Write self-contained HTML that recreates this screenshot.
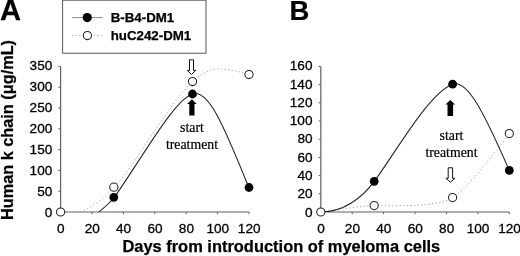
<!DOCTYPE html>
<html><head><meta charset="utf-8"><title>Figure</title>
<style>
html,body{margin:0;padding:0;background:#fff;}
svg{display:block}
text{font-family:"Liberation Sans",Arial,sans-serif;fill:#000}
.b{font-weight:bold;stroke:#000;stroke-width:0.25px}
.tk{font-size:13.6px;stroke:#000;stroke-width:0.3px}
.sf{font-family:"Liberation Serif","Times New Roman",serif;font-size:13.8px;stroke:#000;stroke-width:0.2px}
</style></head><body>
<svg width="520" height="256" viewBox="0 0 520 256">
<rect width="520" height="256" fill="#fff"/>
<defs>
<clipPath id="ca"><rect x="60" y="40" width="200" height="172"/></clipPath>
<clipPath id="cb"><rect x="320" y="40" width="200" height="172"/></clipPath>
</defs>

<text class="b" transform="translate(0,20.1) scale(1.02,1)" font-size="28.6">A</text>
<text class="b" transform="translate(289.6,19.9) scale(0.98,1)" font-size="28">B</text>
<rect x="62.6" y="0.2" width="143.4" height="53" fill="#fff" stroke="#555" stroke-width="1"/>
<line x1="72" y1="17.6" x2="102.7" y2="17.6" stroke="#8c8c8c" stroke-width="1"/>
<circle cx="87.25" cy="17.6" r="4.6" fill="#000"/>
<line x1="72" y1="35.5" x2="104" y2="35.5" stroke="#a0a0a0" stroke-width="1" stroke-dasharray="1.2,2.4"/>
<circle cx="87.4" cy="35.5" r="4.1" fill="#fff" stroke="#222" stroke-width="1.05"/>
<text class="b" x="110.7" y="22.4" font-size="13.3">B-B4-DM1</text>
<text class="b" x="110.7" y="40.4" font-size="13.3">huC242-DM1</text>
<path d="M60.6,66.4V212H249.0" fill="none" stroke="#606060" stroke-width="1.2"/>
<line x1="58.30" x2="60.6" y1="212.00" y2="212.00" stroke="#606060"/>
<text class="tk" x="52.30" y="216.50" text-anchor="end">0</text>
<line x1="58.30" x2="60.6" y1="191.20" y2="191.20" stroke="#606060"/>
<text class="tk" x="52.30" y="195.63" text-anchor="end">50</text>
<line x1="58.30" x2="60.6" y1="170.40" y2="170.40" stroke="#606060"/>
<text class="tk" x="52.30" y="174.76" text-anchor="end">100</text>
<line x1="58.30" x2="60.6" y1="149.60" y2="149.60" stroke="#606060"/>
<text class="tk" x="52.30" y="153.89" text-anchor="end">150</text>
<line x1="58.30" x2="60.6" y1="128.80" y2="128.80" stroke="#606060"/>
<text class="tk" x="52.30" y="133.01" text-anchor="end">200</text>
<line x1="58.30" x2="60.6" y1="108.00" y2="108.00" stroke="#606060"/>
<text class="tk" x="52.30" y="112.14" text-anchor="end">250</text>
<line x1="58.30" x2="60.6" y1="87.20" y2="87.20" stroke="#606060"/>
<text class="tk" x="52.30" y="91.27" text-anchor="end">300</text>
<line x1="58.30" x2="60.6" y1="66.40" y2="66.40" stroke="#606060"/>
<text class="tk" x="52.30" y="70.40" text-anchor="end">350</text>
<line y1="212" y2="214.2" x1="60.60" x2="60.60" stroke="#606060"/>
<text class="tk" x="60.80" y="233.4" text-anchor="middle">0</text>
<line y1="212" y2="214.2" x1="92.00" x2="92.00" stroke="#606060"/>
<text class="tk" x="92.20" y="233.4" text-anchor="middle">20</text>
<line y1="212" y2="214.2" x1="123.40" x2="123.40" stroke="#606060"/>
<text class="tk" x="123.60" y="233.4" text-anchor="middle">40</text>
<line y1="212" y2="214.2" x1="154.80" x2="154.80" stroke="#606060"/>
<text class="tk" x="155.00" y="233.4" text-anchor="middle">60</text>
<line y1="212" y2="214.2" x1="186.20" x2="186.20" stroke="#606060"/>
<text class="tk" x="186.40" y="233.4" text-anchor="middle">80</text>
<line y1="212" y2="214.2" x1="217.60" x2="217.60" stroke="#606060"/>
<text class="tk" x="217.80" y="233.4" text-anchor="middle">100</text>
<line y1="212" y2="214.2" x1="249.00" x2="249.00" stroke="#606060"/>
<text class="tk" x="249.20" y="233.4" text-anchor="middle">120</text>
<path d="M320.8,66.4V212H509.3" fill="none" stroke="#606060" stroke-width="1.2"/>
<line x1="318.50" x2="320.8" y1="212.00" y2="212.00" stroke="#606060"/>
<text class="tk" x="312.50" y="216.50" text-anchor="end">0</text>
<line x1="318.50" x2="320.8" y1="193.80" y2="193.80" stroke="#606060"/>
<text class="tk" x="312.50" y="198.24" text-anchor="end">20</text>
<line x1="318.50" x2="320.8" y1="175.60" y2="175.60" stroke="#606060"/>
<text class="tk" x="312.50" y="179.97" text-anchor="end">40</text>
<line x1="318.50" x2="320.8" y1="157.40" y2="157.40" stroke="#606060"/>
<text class="tk" x="312.50" y="161.71" text-anchor="end">60</text>
<line x1="318.50" x2="320.8" y1="139.20" y2="139.20" stroke="#606060"/>
<text class="tk" x="312.50" y="143.45" text-anchor="end">80</text>
<line x1="318.50" x2="320.8" y1="121.00" y2="121.00" stroke="#606060"/>
<text class="tk" x="312.50" y="125.19" text-anchor="end">100</text>
<line x1="318.50" x2="320.8" y1="102.80" y2="102.80" stroke="#606060"/>
<text class="tk" x="312.50" y="106.93" text-anchor="end">120</text>
<line x1="318.50" x2="320.8" y1="84.60" y2="84.60" stroke="#606060"/>
<text class="tk" x="312.50" y="88.66" text-anchor="end">140</text>
<line x1="318.50" x2="320.8" y1="66.40" y2="66.40" stroke="#606060"/>
<text class="tk" x="312.50" y="70.40" text-anchor="end">160</text>
<line y1="212" y2="214.2" x1="320.80" x2="320.80" stroke="#606060"/>
<text class="tk" x="321.00" y="233.4" text-anchor="middle">0</text>
<line y1="212" y2="214.2" x1="352.22" x2="352.22" stroke="#606060"/>
<text class="tk" x="352.42" y="233.4" text-anchor="middle">20</text>
<line y1="212" y2="214.2" x1="383.63" x2="383.63" stroke="#606060"/>
<text class="tk" x="383.83" y="233.4" text-anchor="middle">40</text>
<line y1="212" y2="214.2" x1="415.05" x2="415.05" stroke="#606060"/>
<text class="tk" x="415.25" y="233.4" text-anchor="middle">60</text>
<line y1="212" y2="214.2" x1="446.47" x2="446.47" stroke="#606060"/>
<text class="tk" x="446.67" y="233.4" text-anchor="middle">80</text>
<line y1="212" y2="214.2" x1="477.88" x2="477.88" stroke="#606060"/>
<text class="tk" x="478.08" y="233.4" text-anchor="middle">100</text>
<line y1="212" y2="214.2" x1="509.30" x2="509.30" stroke="#606060"/>
<text class="tk" x="509.50" y="233.4" text-anchor="middle">120</text>
<text class="b" x="122.4" y="252" font-size="16.45">Days from introduction of myeloma cells</text>
<text class="b" transform="translate(12.8,220) rotate(-90)" font-size="16.3">Human k chain (μg/mL)</text>
<path clip-path="url(#ca)" d="M81,212 C92,206.5 104,199 113.9,187.5 C135,166 161,114.2 192.5,81.5 C203.5,71.4 212.5,68.6 221,69 C231,69.6 242,72.2 249,74.5" fill="none" stroke="#a0a0a0" stroke-width="1" stroke-dasharray="1.2,2.4"/>
<path clip-path="url(#cb)" d="M320.8,212 C338,209.5 356,206.5 374.2,205.6 C400,205.9 436,207 452.6,197.6 C463,191.8 481.5,170.5 509.3,133.6" fill="none" stroke="#a0a0a0" stroke-width="1" stroke-dasharray="1.2,2.4"/>
<path clip-path="url(#ca)" d="M98.75,212 C103.75,208 109.8,203.2 114.4,197.2 C142.2,157.8 174.3,99.6 192.5,94 C208,89.2 222.5,122 249,188" fill="none" stroke="#222" stroke-width="1.05"/>
<path clip-path="url(#cb)" d="M320.8,212 C342,212.5 362,198.5 374.2,181.4 C396,152 429,92.8 452.6,84.2 C466.8,79 483,110 509.3,170.4" fill="none" stroke="#222" stroke-width="1.05"/>
<circle cx="60.60" cy="212.00" r="4.1" fill="#fff" stroke="#222" stroke-width="1.05"/>
<circle cx="113.80" cy="187.20" r="4.1" fill="#fff" stroke="#222" stroke-width="1.05"/>
<circle cx="192.50" cy="81.50" r="4.1" fill="#fff" stroke="#222" stroke-width="1.05"/>
<circle cx="249.00" cy="74.50" r="4.1" fill="#fff" stroke="#222" stroke-width="1.05"/>
<circle cx="320.80" cy="212.00" r="4.1" fill="#fff" stroke="#222" stroke-width="1.05"/>
<circle cx="374.20" cy="205.60" r="4.1" fill="#fff" stroke="#222" stroke-width="1.05"/>
<circle cx="452.60" cy="197.60" r="4.1" fill="#fff" stroke="#222" stroke-width="1.05"/>
<circle cx="509.30" cy="133.60" r="4.1" fill="#fff" stroke="#222" stroke-width="1.05"/>
<circle cx="113.80" cy="197.30" r="4.4" fill="#000"/>
<circle cx="192.50" cy="94.00" r="4.4" fill="#000"/>
<circle cx="249.00" cy="187.50" r="4.4" fill="#000"/>
<circle cx="374.20" cy="181.30" r="4.4" fill="#000"/>
<circle cx="452.60" cy="84.20" r="4.4" fill="#000"/>
<circle cx="509.30" cy="170.40" r="4.4" fill="#000"/>
<path d="M191.5,74.4 L195.8,70.4 H193.5 V59.8 H189.5 V70.4 H187.2 Z" fill="#fff" stroke="#111" stroke-width="1"/>
<path d="M191.9,99.3 L196.70000000000002,103.89999999999999 H194.5 V115.5 H189.3 V103.89999999999999 H187.1 Z" fill="#000"/>
<path d="M450.3,100 L455.1,104.6 H453.1 V116 H447.5 V104.6 H445.5 Z" fill="#000"/>
<path d="M450.4,182.3 L454.79999999999995,178.3 H452.59999999999997 V167.8 H448.2 V178.3 H446.0 Z" fill="#fff" stroke="#111" stroke-width="1"/>
<text class="sf" x="192" y="131.7" text-anchor="middle">start</text>
<text class="sf" x="192" y="148.5" text-anchor="middle">treatment</text>
<text class="sf" x="451.5" y="139.7" text-anchor="middle">start</text>
<text class="sf" x="451.5" y="156.8" text-anchor="middle">treatment</text>
</svg></body></html>
